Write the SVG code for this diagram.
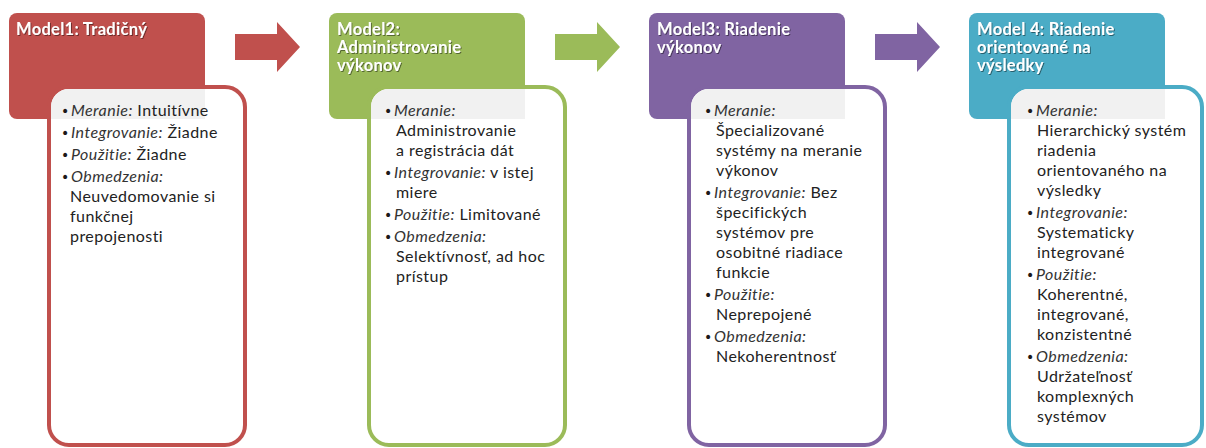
<svg xmlns="http://www.w3.org/2000/svg" width="1206" height="448" viewBox="0 0 1206 448">
<style>
.hd{font-family:Lato,"Open Sans","DejaVu Sans",sans-serif;font-weight:700;font-size:16.5px;letter-spacing:0.3px;fill:#fff}
.bd{font-family:Lato,"Open Sans","DejaVu Sans",sans-serif;font-size:16px;font-weight:400;letter-spacing:0.45px;fill:#222}
.bu{font-family:"DejaVu Sans",sans-serif;font-size:14px;fill:#1a1a1a}
.it{font-style:italic;font-weight:400;fill:#333}
.inner{fill:#fff;stroke-width:4}
.ov{fill:#f1f1f1}
</style>
<defs>
<filter id="sh" x="-5%" y="-20%" width="110%" height="140%">
<feDropShadow dx="1" dy="1" stdDeviation="0.7" flood-color="#000" flood-opacity="0.45"/>
</filter>
</defs>
<rect width="1206" height="448" fill="#fff"/>
<g id="connectors">
<polygon points="235,34 277,34 277,22 300,47 277,72 277,60 235,60" fill="#c0504d"/>
<polygon points="555,34 597,34 597,22 620,47 597,72 597,60 555,60" fill="#9bbb59"/>
<polygon points="875,34 917,34 917,22 940,47 917,72 917,60 875,60" fill="#8064a2"/>
</g>
<g id="model1">
<rect x="9" y="13" width="196" height="106" rx="8" fill="#c0504d"/>
<g filter="url(#sh)"><text class="hd" x="16" y="35">Model1: Tradičný</text></g>
<rect class="inner" x="49" y="87" width="196" height="358" rx="20" stroke="#c0504d"/>
<path class="ov" d="M51,119 V107 A18,18 0 0 1 69,89 H205 V119 Z"/>
<text class="bu" x="61" y="116">•</text><text class="bd" x="71" y="116"><tspan class="it">Meranie:</tspan> Intuitívne</text>
<text class="bu" x="61" y="138">•</text><text class="bd" x="71" y="138"><tspan class="it">Integrovanie:</tspan> Žiadne</text>
<text class="bu" x="61" y="160">•</text><text class="bd" x="71" y="160"><tspan class="it">Použitie:</tspan> Žiadne</text>
<text class="bu" x="61" y="182">•</text><text class="bd" x="71" y="182"><tspan class="it">Obmedzenia:</tspan></text>
<text class="bd" x="70" y="202">Neuvedomovanie si</text>
<text class="bd" x="70" y="222">funkčnej</text>
<text class="bd" x="70" y="242">prepojenosti</text>
</g>
<g id="model2">
<rect x="329" y="13" width="196" height="106" rx="8" fill="#9bbb59"/>
<g filter="url(#sh)"><text class="hd" x="337" y="35">Model2:</text><text class="hd" x="337" y="53">Administrovanie</text><text class="hd" x="337" y="71">výkonov</text></g>
<rect class="inner" x="369" y="87" width="196" height="358" rx="20" stroke="#9bbb59"/>
<path class="ov" d="M371,119 V107 A18,18 0 0 1 389,89 H525 V119 Z"/>
<text class="bu" x="384" y="116">•</text><text class="bd" x="394" y="116"><tspan class="it">Meranie:</tspan></text>
<text class="bd" x="396" y="136">Administrovanie</text>
<text class="bd" x="396" y="156">a registrácia dát</text>
<text class="bu" x="384" y="178">•</text><text class="bd" x="394" y="178"><tspan class="it">Integrovanie:</tspan> v istej</text>
<text class="bd" x="396" y="198">miere</text>
<text class="bu" x="384" y="220">•</text><text class="bd" x="394" y="220"><tspan class="it">Použitie:</tspan> Limitované</text>
<text class="bu" x="384" y="242">•</text><text class="bd" x="394" y="242"><tspan class="it">Obmedzenia:</tspan></text>
<text class="bd" x="396" y="262">Selektívnosť, ad hoc</text>
<text class="bd" x="396" y="282">prístup</text>
</g>
<g id="model3">
<rect x="649" y="13" width="196" height="106" rx="8" fill="#8064a2"/>
<g filter="url(#sh)"><text class="hd" x="657" y="35">Model3: Riadenie</text><text class="hd" x="657" y="53">výkonov</text></g>
<rect class="inner" x="689" y="87" width="196" height="358" rx="20" stroke="#8064a2"/>
<path class="ov" d="M691,119 V107 A18,18 0 0 1 709,89 H845 V119 Z"/>
<text class="bu" x="704" y="116">•</text><text class="bd" x="714" y="116"><tspan class="it">Meranie:</tspan></text>
<text class="bd" x="716" y="136">Špecializované</text>
<text class="bd" x="716" y="156">systémy na meranie</text>
<text class="bd" x="716" y="176">výkonov</text>
<text class="bu" x="704" y="198">•</text><text class="bd" x="714" y="198"><tspan class="it">Integrovanie:</tspan> Bez</text>
<text class="bd" x="716" y="218">špecifických</text>
<text class="bd" x="716" y="238">systémov pre</text>
<text class="bd" x="716" y="258">osobitné riadiace</text>
<text class="bd" x="716" y="278">funkcie</text>
<text class="bu" x="704" y="300">•</text><text class="bd" x="714" y="300"><tspan class="it">Použitie:</tspan></text>
<text class="bd" x="716" y="320">Neprepojené</text>
<text class="bu" x="704" y="342">•</text><text class="bd" x="714" y="342"><tspan class="it">Obmedzenia:</tspan></text>
<text class="bd" x="716" y="362">Nekoherentnosť</text>
</g>
<g id="model4">
<rect x="969" y="13" width="196" height="106" rx="8" fill="#4bacc6"/>
<g filter="url(#sh)"><text class="hd" x="977" y="35">Model 4: Riadenie</text><text class="hd" x="977" y="53">orientované na</text><text class="hd" x="977" y="71">výsledky</text></g>
<rect class="inner" x="1009" y="87" width="193" height="358" rx="20" stroke="#4bacc6"/>
<path class="ov" d="M1011,119 V107 A18,18 0 0 1 1029,89 H1165 V119 Z"/>
<text class="bu" x="1026" y="116">•</text><text class="bd" x="1036" y="116"><tspan class="it">Meranie:</tspan></text>
<text class="bd" x="1037" y="136">Hierarchický systém</text>
<text class="bd" x="1037" y="156">riadenia</text>
<text class="bd" x="1037" y="176">orientovaného na</text>
<text class="bd" x="1037" y="196">výsledky</text>
<text class="bu" x="1026" y="218">•</text><text class="bd" x="1036" y="218"><tspan class="it">Integrovanie:</tspan></text>
<text class="bd" x="1037" y="238">Systematicky</text>
<text class="bd" x="1037" y="258">integrované</text>
<text class="bu" x="1026" y="280">•</text><text class="bd" x="1036" y="280"><tspan class="it">Použitie:</tspan></text>
<text class="bd" x="1037" y="300">Koherentné,</text>
<text class="bd" x="1037" y="320">integrované,</text>
<text class="bd" x="1037" y="340">konzistentné</text>
<text class="bu" x="1026" y="362">•</text><text class="bd" x="1036" y="362"><tspan class="it">Obmedzenia:</tspan></text>
<text class="bd" x="1037" y="382">Udržateľnosť</text>
<text class="bd" x="1037" y="402">komplexných</text>
<text class="bd" x="1037" y="422">systémov</text>
</g>
</svg>
